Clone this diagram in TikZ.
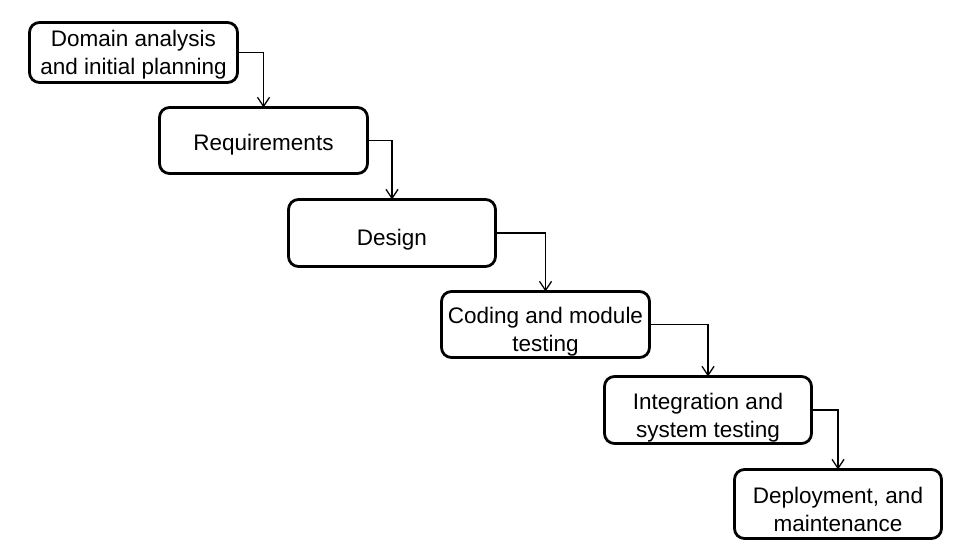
\documentclass[tikz,border=0pt]{standalone}
\usepackage{fontspec}
\setmainfont{Liberation Sans}
\usetikzlibrary{arrows.meta}
\begin{document}
\begin{tikzpicture}[x=1pt,y=-1pt,
  stage/.style={draw, line width=2.8pt, rounded corners=10pt, minimum width=208pt,
    inner sep=0pt, outer sep=0pt},
  stagetext/.style={align=center, inner sep=0pt, font=\fontsize{22.5}{28}\selectfont},
  flow/.style={line width=1.3pt, -{Straight Barb[length=9pt,width=12pt,line width=1.3pt]}}]
\useasboundingbox (0,0) rectangle (967,553);
\node[stage, minimum height=60pt,
  label={[stagetext,yshift=-2.5pt]center:{Domain analysis\\and initial planning}}] (b1) at (133.5,52.5) {};
\node[stage, minimum height=66pt,
  label={[stagetext,yshift=-4pt]center:{Requirements}}] (b2) at (263.5,140.5) {};
\node[stage, minimum height=67pt, minimum width=207pt,
  label={[stagetext,yshift=-6.5pt]center:{Design}}] (b3) at (392,233) {};
\node[stage, minimum height=66pt,
  label={[stagetext,yshift=-7pt]center:{Coding and module\\testing}}] (b4) at (545.5,324.5) {};
\node[stage, minimum height=67pt, minimum width=207pt,
  label={[stagetext,yshift=-7.5pt]center:{Integration and\\system testing}}] (b5) at (708,410) {};
\node[stage, minimum height=69pt, minimum width=207pt,
  label={[stagetext,yshift=-5.5pt]center:{Deployment, and\\maintenance}}] (b6) at (838,504) {};
\draw[flow] (b1.east) -| (b2.north);
\draw[flow] (b2.east) -| (b3.north);
\draw[flow] (b3.east) -| (b4.north);
\draw[flow] (b4.east) -| (b5.north);
\draw[flow] (b5.east) -| (b6.north);
\end{tikzpicture}
\end{document}
